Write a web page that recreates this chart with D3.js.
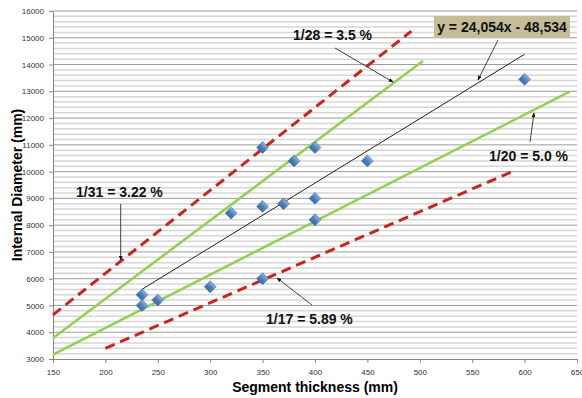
<!DOCTYPE html>
<html>
<head>
<meta charset="utf-8">
<script src="https://cdn.jsdelivr.net/npm/d3@7"></script>
<style>
  body { margin: 0; background: #fff; }
  text { font-family: "Liberation Sans", Arial, sans-serif; }
  .tick text { font-size: 8px; fill: #333; }
  .note { font-size: 14px; font-weight: bold; fill: #111; }
</style>
</head>
<body>
<div class="chart"></div>
<script>
// data
var thickness = [235, 235, 250, 300, 320, 350, 350, 350, 370, 380, 400, 400, 400, 450, 600];
var diameter  = [5400, 5000, 5200, 5700, 8450, 6000, 8700, 10900, 8800, 10400, 9000, 8200, 10900, 10400, 13450];

// ratio lines: thickness range and diameter at the ends
var ratioNames = ["1/31 = 3.22 %", "1/28 = 3.5 %", "1/20 = 5.0 %", "1/17 = 5.89 %"];
var ratioX = [[150, 492], [150, 503], [150, 643], [200, 591]];
var ratioY = [[4650, 15250], [3780, 14130], [3160, 12985], [3400, 10050]];
var ratioKind = ["red", "green", "green", "red"];

// trend line y = 24,054x - 48,534
var trendSlope = 24.054;
var trendIntercept = -48.534;
var trendRange = [235, 600];

var xTicks = d3.range(150, 651, 50);
var yTicks = d3.range(3000, 16001, 1000);

var svgWidth = 582;
var svgHeight = 398;
var margin = { top: 11, right: 5, bottom: 39, left: 53 };
var width = svgWidth - margin.left - margin.right;
var height = svgHeight - margin.top - margin.bottom;

var svg = d3.select(".chart").append("svg")
  .attr("width", svgWidth)
  .attr("height", svgHeight);

var defs = svg.append("defs");
defs.append("marker")
  .attr("id", "arrow")
  .attr("viewBox", "0 0 10 10")
  .attr("refX", 9).attr("refY", 5)
  .attr("markerWidth", 6).attr("markerHeight", 6)
  .attr("orient", "auto")
  .append("path").attr("d", "M0,1 L10,5 L0,9 Z").attr("fill", "#111");

var grad = defs.append("linearGradient").attr("id", "dia")
  .attr("x1", 0).attr("y1", 0).attr("x2", 0).attr("y2", 1);
grad.append("stop").attr("offset", "0%").attr("stop-color", "#8db3e2");
grad.append("stop").attr("offset", "50%").attr("stop-color", "#4f81bd");
grad.append("stop").attr("offset", "100%").attr("stop-color", "#3a6aa6");

var chart = svg.append("g")
  .attr("transform", "translate(" + margin.left + "," + margin.top + ")");

var x = d3.scaleLinear().domain([150, 650]).range([0, width]);
var y = d3.scaleLinear().domain([3000, 16000]).range([height, 0]);

// gridlines
chart.append("g").selectAll("line")
  .data(d3.range(3200, 16000, 200).filter(function(d){ return d % 1000 != 0; }))
  .enter().append("line")
  .attr("x1", 0).attr("x2", width)
  .attr("y1", function(d){ return y(d); }).attr("y2", function(d){ return y(d); })
  .attr("stroke", "#d6d6d6").attr("stroke-width", 1.5);

chart.append("g").selectAll("line")
  .data(yTicks.slice(1))
  .enter().append("line")
  .attr("x1", 0).attr("x2", width)
  .attr("y1", function(d){ return y(d); }).attr("y2", function(d){ return y(d); })
  .attr("stroke", "#9a9a9a").attr("stroke-width", 1);

// axes
var bottomAxis = d3.axisBottom(x).tickValues(xTicks).tickFormat(d3.format("d"))
  .tickSize(4).tickSizeOuter(0).tickPadding(6);
var leftAxis = d3.axisLeft(y).tickValues(yTicks).tickFormat(d3.format("d"))
  .tickSize(4).tickSizeOuter(0).tickPadding(5);

var gx = chart.append("g").attr("transform", "translate(0," + height + ")").call(bottomAxis);
var gy = chart.append("g").call(leftAxis);
[gx, gy].forEach(function(g){
  g.select(".domain").attr("stroke", "#858585");
  g.selectAll(".tick line").attr("stroke", "#858585");
});

// ratio lines
chart.append("g").selectAll("line")
  .data(ratioNames)
  .enter().append("line")
  .attr("x1", function(d, i){ return x(ratioX[i][0]); })
  .attr("x2", function(d, i){ return x(ratioX[i][1]); })
  .attr("y1", function(d, i){ return y(ratioY[i][0]); })
  .attr("y2", function(d, i){ return y(ratioY[i][1]); })
  .attr("stroke", function(d, i){ return ratioKind[i] == "red" ? "#c8261d" : "#92d050"; })
  .attr("stroke-width", function(d, i){ return ratioKind[i] == "red" ? 3 : 2.5; })
  .attr("stroke-dasharray", function(d, i){ return ratioKind[i] == "red" ? "10,6" : null; });

// trend line
chart.append("line")
  .attr("x1", x(trendRange[0])).attr("x2", x(trendRange[1]))
  .attr("y1", y(trendSlope * trendRange[0] + trendIntercept))
  .attr("y2", y(trendSlope * trendRange[1] + trendIntercept))
  .attr("stroke", "#222").attr("stroke-width", 1);

// points
chart.append("g").selectAll("rect")
  .data(thickness)
  .enter().append("rect")
  .attr("x", -4.2).attr("y", -4.2)
  .attr("width", 8.4).attr("height", 8.4)
  .attr("transform", function(d, i){
    return "translate(" + x(d) + "," + y(diameter[i]) + ") rotate(45)";
  })
  .attr("fill", "url(#dia)")
  .attr("stroke", "#3d6fae").attr("stroke-width", 0.6);

// annotations (page coordinates)
var notes = svg.append("g");

function arrow(x1, y1, x2, y2) {
  notes.append("line")
    .attr("x1", x1).attr("y1", y1).attr("x2", x2).attr("y2", y2)
    .attr("stroke", "#111").attr("stroke-width", 0.8)
    .attr("marker-end", "url(#arrow)");
}

arrow(120.7, 204, 120.7, 260);
arrow(335, 48, 393, 82);
arrow(498, 40, 478, 80);
arrow(530, 142, 534, 113);
arrow(312, 305, 277, 278);

notes.append("text").attr("class", "note").attr("x", 76).attr("y", 197).text(ratioNames[0]);
notes.append("text").attr("class", "note").attr("x", 293).attr("y", 40).text(ratioNames[1]);
notes.append("text").attr("class", "note").attr("x", 489).attr("y", 161).text(ratioNames[2]);
notes.append("text").attr("class", "note").attr("x", 266).attr("y", 324).text(ratioNames[3]);

notes.append("rect").attr("x", 434).attr("y", 16).attr("width", 136).attr("height", 22)
  .attr("fill", "#c4bd97");
notes.append("text").attr("class", "note").attr("x", 502).attr("y", 32)
  .attr("text-anchor", "middle")
  .text("y = 24,054x - 48,534");

// axis titles
svg.append("text")
  .attr("transform", "translate(22," + (margin.top + height / 2) + ") rotate(-90)")
  .attr("text-anchor", "middle")
  .style("font-size", "14px").style("font-weight", "bold")
  .text("Internal Diameter (mm)");

svg.append("text")
  .attr("x", 315).attr("y", 392)
  .attr("text-anchor", "middle")
  .style("font-size", "14px").style("font-weight", "bold")
  .text("Segment thickness (mm)");
</script>
</body>
</html>
